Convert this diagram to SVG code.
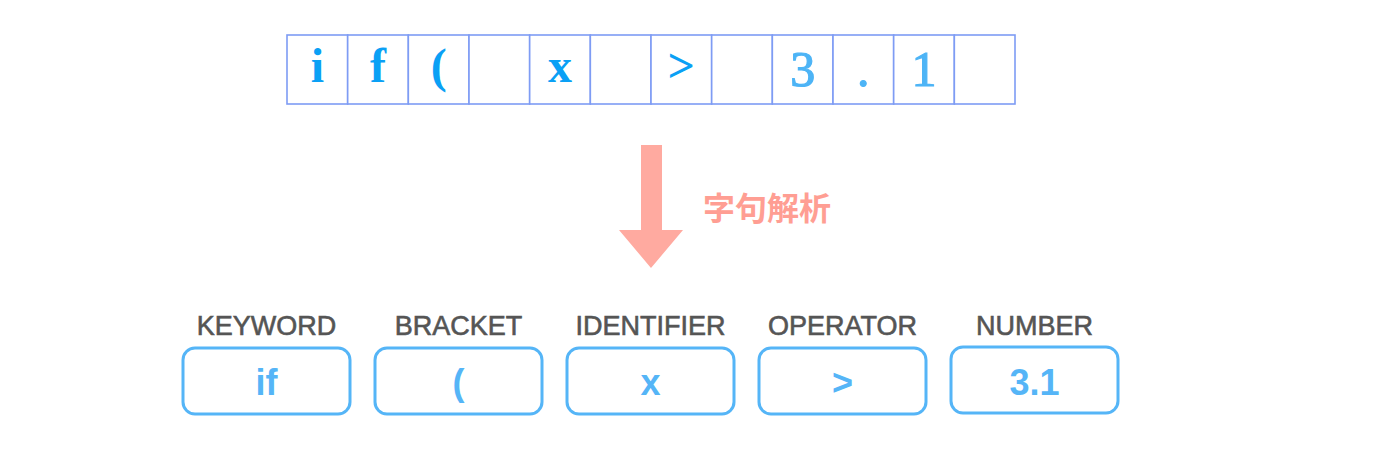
<svg xmlns="http://www.w3.org/2000/svg" width="1400" height="454" viewBox="0 0 1400 454">
<style>
.cell{fill:#ffffff;stroke:#7e9cf4;stroke-width:1.6}
.ch{font-family:"Liberation Serif","Times New Roman",serif;font-size:48px;font-weight:bold;fill:#0aa0f5;text-anchor:middle}
.num{font-family:"Liberation Serif","Times New Roman",serif;font-size:50px;fill:#4db4f6;stroke:#4db4f6;stroke-width:1.2;text-anchor:middle}
.lbl{font-family:"Liberation Sans",Arial,sans-serif;font-size:27px;fill:#555555;stroke:#555555;stroke-width:0.6;text-anchor:middle}
.tok{fill:#ffffff;stroke:#55b5f7;stroke-width:3}
.tokt{font-family:"Liberation Sans",Arial,sans-serif;font-size:36px;font-weight:bold;fill:#55b5f7;text-anchor:middle}
.step{font-family:"Noto Sans CJK JP","Noto Sans CJK SC",sans-serif;font-size:32px;font-weight:bold;fill:#ff9e93}
</style>
<rect width="1400" height="454" fill="#ffffff"/>
<g id="source">
<rect class="cell" x="287" y="35" width="60.67" height="69"/>
<rect class="cell" x="347.67" y="35" width="60.67" height="69"/>
<rect class="cell" x="408.33" y="35" width="60.67" height="69"/>
<rect class="cell" x="469" y="35" width="60.67" height="69"/>
<rect class="cell" x="529.67" y="35" width="60.67" height="69"/>
<rect class="cell" x="590.33" y="35" width="60.67" height="69"/>
<rect class="cell" x="651" y="35" width="60.67" height="69"/>
<rect class="cell" x="711.67" y="35" width="60.67" height="69"/>
<rect class="cell" x="772.33" y="35" width="60.67" height="69"/>
<rect class="cell" x="833" y="35" width="60.67" height="69"/>
<rect class="cell" x="893.67" y="35" width="60.67" height="69"/>
<rect class="cell" x="954.33" y="35" width="60.67" height="69"/>
<text class="ch" x="317.3" y="82">i</text>
<text class="ch" x="378" y="82">f</text>
<text class="ch" x="438.7" y="82">(</text>
<text class="ch" x="560" y="82">x</text>
<text class="ch" x="681.3" y="82">&gt;</text>
<text class="num" x="802.7" y="86">3</text>
<text class="num" x="863.3" y="86">.</text>
<text class="num" x="924" y="86">1</text>
</g>
<g id="connectors">
<polygon points="641,145 662,145 662,230 683,230 651,268 619,230 641,230" fill="#ffaaa0"/>
<text class="step" x="703" y="220">字句解析</text>
</g>
<g id="keyword">
<text class="lbl" x="266.5" y="335">KEYWORD</text>
<rect class="tok" x="183" y="348" width="167" height="66" rx="12"/>
<text class="tokt" x="266.5" y="395">if</text>
</g>
<g id="bracket">
<text class="lbl" x="458.5" y="335">BRACKET</text>
<rect class="tok" x="375" y="348" width="167" height="66" rx="12"/>
<text class="tokt" x="458.5" y="395">(</text>
</g>
<g id="identifier">
<text class="lbl" x="650.5" y="335">IDENTIFIER</text>
<rect class="tok" x="567" y="348" width="167" height="66" rx="12"/>
<text class="tokt" x="650.5" y="395">x</text>
</g>
<g id="operator">
<text class="lbl" x="842.5" y="335">OPERATOR</text>
<rect class="tok" x="759" y="348" width="167" height="66" rx="12"/>
<text class="tokt" x="842.5" y="395">&gt;</text>
</g>
<g id="number">
<text class="lbl" x="1034.5" y="335">NUMBER</text>
<rect class="tok" x="951" y="347" width="167" height="66" rx="12"/>
<text class="tokt" x="1034.5" y="395">3.1</text>
</g>
</svg>
